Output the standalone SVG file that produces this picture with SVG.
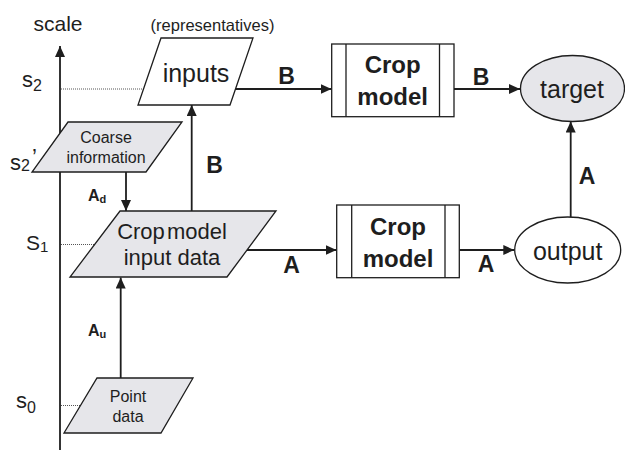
<svg xmlns="http://www.w3.org/2000/svg" width="625" height="450" viewBox="0 0 625 450">
<defs>
<style>
text{font-family:"Liberation Sans",Arial,sans-serif;fill:#1e1e1e}
.shape{stroke:#1e1e1e;stroke-width:1.3}
.gray{fill:#e6e6ea}
.white{fill:#fff}
.conn{stroke:#1e1e1e;stroke-width:1.8;fill:none}
.dot{stroke:#555;stroke-width:1;stroke-dasharray:1 1;fill:none}
.lab{font-weight:bold;text-anchor:middle}
.mid{text-anchor:middle}
</style>
<marker id="ah" markerUnits="userSpaceOnUse" markerWidth="12" markerHeight="10" refX="11" refY="5" orient="auto">
<path d="M0,0 L11,5 L0,10 Z" fill="#1e1e1e"/>
</marker>
</defs>
<rect width="625" height="450" fill="#fff"/>

<g id="axis">
<line class="conn" x1="60" y1="450" x2="60" y2="46" marker-end="url(#ah)"/>
<text x="58" y="31" class="mid" font-size="21">scale</text>
<line class="dot" x1="61" y1="89" x2="144" y2="89"/>
<line class="dot" x1="61" y1="244.5" x2="95" y2="244.5"/>
<line class="dot" x1="61" y1="405.5" x2="80" y2="405.5"/>
<text x="22" y="87" font-size="22">s<tspan font-size="16" dy="4">2</tspan></text>
<text x="10" y="170" font-size="22">s<tspan font-size="16" dy="1">2</tspan></text>
<text x="32" y="164" font-size="22">’</text>
<text x="26" y="250" font-size="21">S<tspan font-size="15" dy="2">1</tspan></text>
<text x="16" y="408" font-size="22">s<tspan font-size="16" dy="5">0</tspan></text>
</g>

<g id="connectors">
<line class="conn" x1="235" y1="89" x2="331.5" y2="89" marker-end="url(#ah)"/>
<line class="conn" x1="454" y1="89" x2="520" y2="89" marker-end="url(#ah)"/>
<line class="conn" x1="247" y1="250" x2="336.5" y2="250" marker-end="url(#ah)"/>
<line class="conn" x1="459.3" y1="250" x2="514.3" y2="250" marker-end="url(#ah)"/>
<line class="conn" x1="570.7" y1="217" x2="570.7" y2="121.5" marker-end="url(#ah)"/>
<line class="conn" x1="120.7" y1="378" x2="120.7" y2="277.5" marker-end="url(#ah)"/>
<line class="conn" x1="126" y1="172" x2="126" y2="211" marker-end="url(#ah)"/>
<line class="conn" x1="191.7" y1="211" x2="191.7" y2="105" marker-end="url(#ah)"/>
<text x="286.5" y="84" class="lab" font-size="23">B</text>
<text x="481" y="85" class="lab" font-size="23">B</text>
<text x="214.5" y="173" class="lab" font-size="23">B</text>
<text x="291.5" y="273" class="lab" font-size="23">A</text>
<text x="486" y="272" class="lab" font-size="23">A</text>
<text x="587" y="184" class="lab" font-size="23">A</text>
<text x="88" y="201" font-weight="bold" font-size="16">A<tspan font-size="11" dy="2">d</tspan></text>
<text x="88" y="336" font-weight="bold" font-size="16">A<tspan font-size="11" dy="2">u</tspan></text>
</g>

<g id="inputs">
<polygon class="shape white" points="161,38 253,38 230,105 138,105"/>
<text x="196" y="82" class="mid" font-size="25">inputs</text>
<text x="212.5" y="30.5" class="mid" font-size="16.5">(representatives)</text>
</g>

<g id="coarse">
<polygon class="shape gray" points="68,122 182,122 146,172 32,172"/>
<text x="106" y="143.3" class="mid" font-size="16">Coarse</text>
<text x="106" y="163.3" class="mid" font-size="16">information</text>
</g>

<g id="cropinput">
<polygon class="shape gray" points="120,211 276,211 227,277 70,277"/>
<text x="172" y="239" class="mid" font-size="22" word-spacing="-4">Crop model</text>
<text x="172" y="265" class="mid" font-size="22">input data</text>
</g>

<g id="point">
<polygon class="shape gray" points="97,378 193,378 161,433 64,433"/>
<text x="128" y="401.7" class="mid" font-size="16">Point</text>
<text x="128" y="421.7" class="mid" font-size="16">data</text>
</g>

<g id="cropmodelB">
<rect class="shape white" x="331.7" y="44" width="122.3" height="72.7"/>
<line class="shape" x1="346" y1="44" x2="346" y2="116.7"/>
<line class="shape" x1="439.5" y1="44" x2="439.5" y2="116.7"/>
<text x="392.7" y="73" class="lab" font-size="24">Crop</text>
<text x="392.7" y="105" class="lab" font-size="24">model</text>
</g>

<g id="cropmodelA">
<rect class="shape white" x="336.7" y="205" width="122.6" height="72.7"/>
<line class="shape" x1="351.7" y1="205" x2="351.7" y2="277.7"/>
<line class="shape" x1="445" y1="205" x2="445" y2="277.7"/>
<text x="398" y="235" class="lab" font-size="24">Crop</text>
<text x="398" y="266.7" class="lab" font-size="24">model</text>
</g>

<g id="target">
<ellipse class="shape gray" cx="572.5" cy="88.5" rx="52" ry="33"/>
<text x="572" y="98" class="mid" font-size="25">target</text>
</g>

<g id="output">
<ellipse class="shape white" cx="567.7" cy="250" rx="53" ry="33"/>
<text x="567.7" y="260" class="mid" font-size="25">output</text>
</g>
</svg>
